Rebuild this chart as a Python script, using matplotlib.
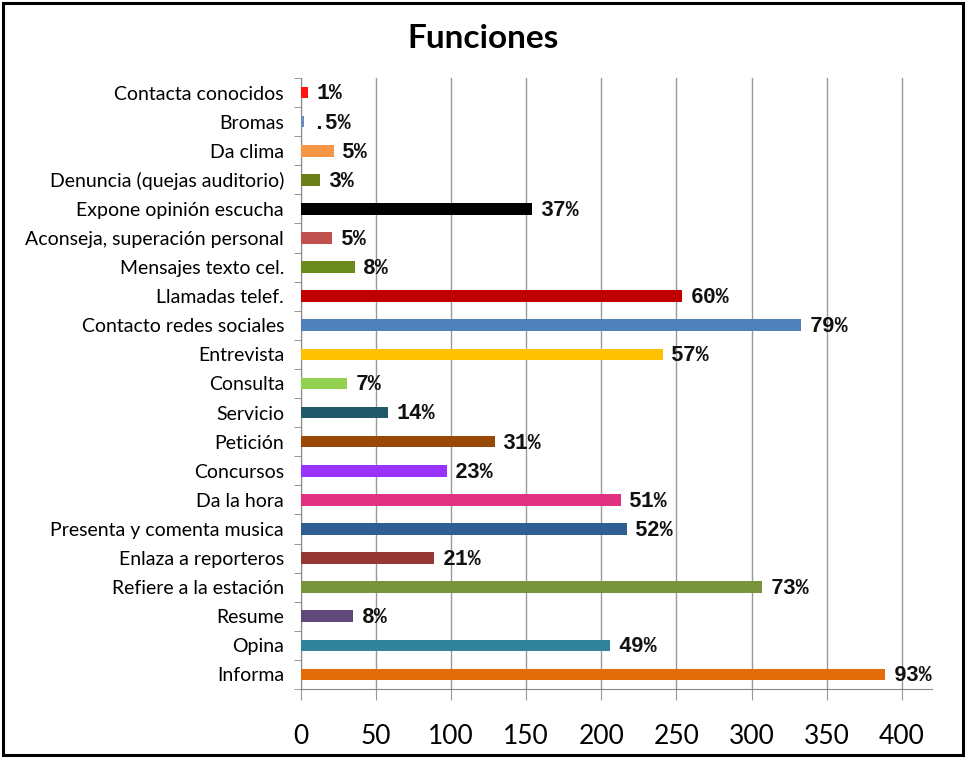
import matplotlib
matplotlib.use('Agg')
import matplotlib.pyplot as plt
from matplotlib.patches import Rectangle
from matplotlib.ticker import FixedLocator

# categories listed from top to bottom, as in the picture
categorias = ['Contacta conocidos', 'Bromas', 'Da clima', 'Denuncia (quejas auditorio)',
              'Expone opinión escucha', 'Aconseja, superación personal', 'Mensajes texto cel.',
              'Llamadas telef.', 'Contacto redes sociales', 'Entrevista', 'Consulta', 'Servicio',
              'Petición', 'Concursos', 'Da la hora', 'Presenta y comenta musica',
              'Enlaza a reporteros', 'Refiere a la estación', 'Resume', 'Opina', 'Informa']
valores = [5, 2, 22, 13, 154, 21, 36, 254, 333, 241, 31, 58,
           129, 97, 213, 217, 89, 307, 35, 206, 389]
etiquetas = ['1%', '.5%', '5%', '3%', '37%', '5%', '8%', '60%', '79%', '57%', '7%', '14%',
             '31%', '23%', '51%', '52%', '21%', '73%', '8%', '49%', '93%']
colores = ['#ff1414', '#6a8fbf', '#f79646', '#6b7f1a', '#000000', '#c0504d', '#6a8a1e',
           '#c00000', '#4f81bd', '#ffc000', '#92d050', '#215968', '#984807', '#9933ff',
           '#e03280', '#2e5e92', '#953735', '#77933c', '#604a7b', '#31849b', '#e36c09']
xticks = [0, 50, 100, 150, 200, 250, 300, 350, 400]

fig = plt.figure(figsize=(9.66, 7.63), dpi=100)
ax = fig.add_axes([0.3113, 0.097, 0.6535, 0.8008])

n = len(categorias)
pos = [n - 1 - i for i in range(n)]
ax.barh(pos, valores, height=0.4, color=colores, zorder=3)

for p, v, t in zip(pos, valores, etiquetas):
    ax.annotate(t, (v, p), xytext=(6, -1), textcoords='offset points', va='center', ha='left',
                fontsize=15.5, fontweight='bold', family='Liberation Mono', color='#111111')

ax.set_xlim(0, 420)
ax.set_ylim(-0.5, n - 0.5)
ax.set_yticks(pos)
ax.set_yticklabels(categorias, family='Lato', fontsize=14)
ax.yaxis.set_minor_locator(FixedLocator([k - 0.5 for k in range(n + 1)]))
ax.tick_params(axis='y', which='major', length=0, pad=12)
ax.tick_params(axis='y', which='minor', length=5, color='#888888', direction='out')

ax.set_xticks(xticks)
ax.set_xticklabels([str(x) for x in xticks], family='Lato', fontsize=19)
ax.tick_params(axis='x', length=8, color='#9a9a9a', pad=17)
ax.grid(axis='x', color='#9a9a9a', linewidth=1, zorder=0)

for s in ['top', 'right']:
    ax.spines[s].set_visible(False)
ax.spines['left'].set_color('#888888')
ax.spines['bottom'].set_color('#888888')

fig.text(0.5, 0.95, 'Funciones', ha='center', va='center', fontsize=24, fontweight='bold',
         family='Lato')

fig.patches.append(Rectangle((0.0031, 0.0105), 0.9938, 0.9856, transform=fig.transFigure,
                             fill=False, edgecolor='black', linewidth=2.2))

fig.savefig('out.png', dpi=100)
